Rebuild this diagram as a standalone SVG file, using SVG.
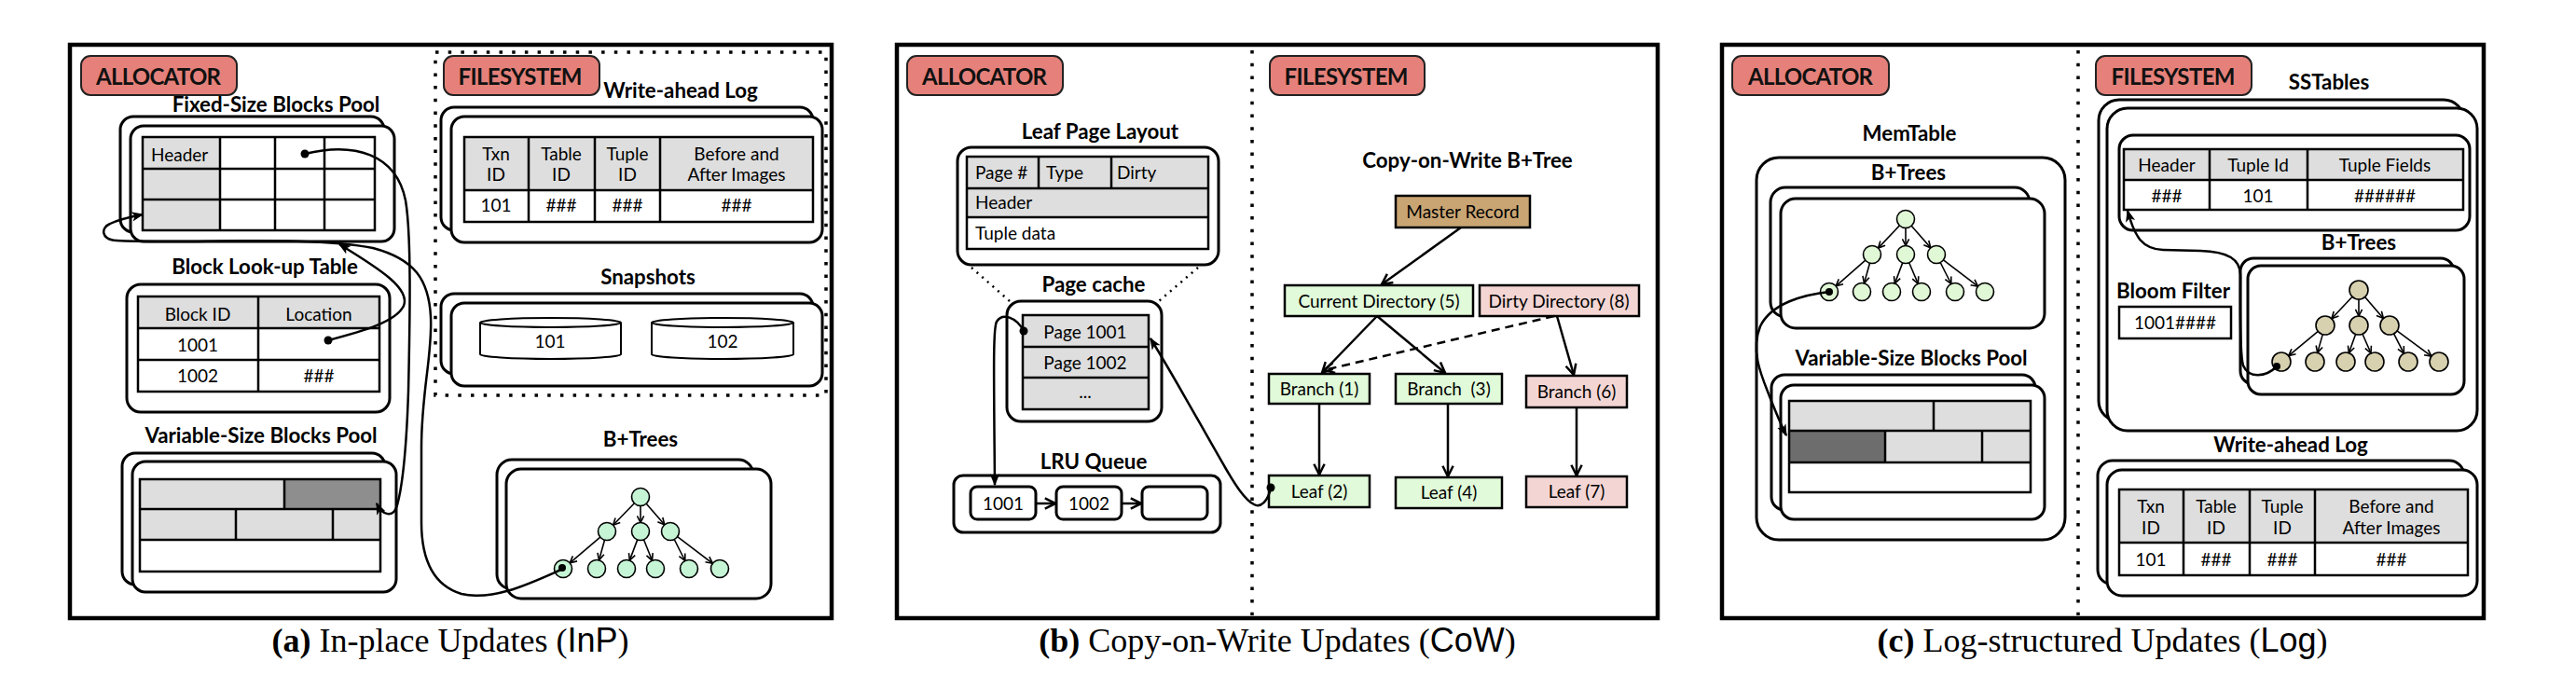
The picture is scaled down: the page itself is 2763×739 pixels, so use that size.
<svg xmlns="http://www.w3.org/2000/svg" width="2763" height="739" viewBox="0 0 2763 739">
<style>
.panel{fill:#fff;stroke:#000;stroke-width:4.5}
.tag{fill:#E5817A;stroke:#222;stroke-width:2}
.box{fill:#fff;stroke:#000;stroke-width:3}
.cell{fill:#fff;stroke:#000;stroke-width:2.5}
.g{fill:#DEDEDE}
.dots{fill:none;stroke:#000;stroke-width:3.5;stroke-dasharray:3.5 10.2}
.thin-dots{fill:none;stroke:#000;stroke-width:2.5;stroke-dasharray:2 5.5}
.t{font-family:Lato,"Liberation Sans",sans-serif;font-size:19px;fill:#000}
.tb{font-family:Lato,"Liberation Sans",sans-serif;font-weight:700;font-size:22.3px;fill:#000}
.tt{font-family:Lato,"Liberation Sans",sans-serif;font-weight:700;font-size:24px;fill:#111}
.m{text-anchor:middle}
.cap{font-family:"Liberation Serif",serif;font-size:36px;fill:#000;text-anchor:middle}
.sans{font-family:"Liberation Sans",sans-serif}
.node-a{fill:#C6F5D6;stroke:#000;stroke-width:1.6}
.node-m{fill:#E0F8D6;stroke:#000;stroke-width:1.6}
.node-f{fill:#D8D1AF;stroke:#000;stroke-width:1.6}
.gbox{fill:#E1FAD9;stroke:#000;stroke-width:2.5}
.pbox{fill:#F3D6D4;stroke:#000;stroke-width:2.5}
.conn{fill:none;stroke:#000;stroke-width:2.5}
.edge{fill:none;stroke:#000;stroke-width:1.6;marker-end:url(#tarr)}
.arrow{fill:none;stroke:#000;stroke-width:2.5;marker-end:url(#arr)}
</style>
<defs>
<marker id="arr" viewBox="0 0 10 10" refX="9" refY="5" markerWidth="14" markerHeight="14" markerUnits="userSpaceOnUse" orient="auto"><path d="M1,1 L9,5 L1,9" fill="none" stroke="#000" stroke-width="1.8"/></marker>
<marker id="tarr" viewBox="0 0 10 10" refX="9" refY="5" markerWidth="9" markerHeight="9" markerUnits="userSpaceOnUse" orient="auto"><path d="M1,1 L9,5 L1,9" fill="none" stroke="#000" stroke-width="1.8"/></marker>
<marker id="farr" viewBox="0 0 10 10" refX="9" refY="5" markerWidth="13" markerHeight="13" markerUnits="userSpaceOnUse" orient="auto"><path d="M0,1 L10,5 L0,9 L2.5,5 z" fill="#000"/></marker>
</defs>
<rect width="2763" height="739" fill="#fff"/>

<!-- ================= PANEL A ================= -->
<g id="panel-a">
<rect class="panel" x="75" y="48" width="817" height="615"/>
<text class="cap" x="483" y="699"><tspan font-weight="700">(a)</tspan> In-place Updates (<tspan class="sans">InP</tspan>)</text>
</g>
<g id="a-fs-region"><rect class="dots" x="467" y="56" width="419" height="368"/></g>
<g id="a-allocator"><rect class="tag" x="87" y="60" width="167" height="42" rx="10"/><text class="tt m" x="170" y="91" textLength="134">ALLOCATOR</text></g>
<g id="a-filesystem"><rect class="tag" x="476" y="60" width="167" height="42" rx="10"/><text class="tt m" x="558" y="91" textLength="133">FILESYSTEM</text></g>

<g id="a-fixed-pool">
<text class="tb m" x="296" y="120">Fixed-Size Blocks Pool</text>
<rect class="box" x="129" y="125" width="283" height="124" rx="14"/>
<rect class="box" x="140" y="135" width="283" height="124" rx="14"/>
<rect class="g" x="153" y="147" width="83" height="100"/>
<g class="cell" fill="none">
<rect x="153" y="147" width="249" height="100" fill="none"/>
<path d="M153,181 H402 M153,214 H402 M236,147 V247 M295,147 V247 M348,147 V247"/>
</g>
<text class="t" x="162" y="173">Header</text>
<circle cx="327" cy="165" r="4.5" fill="#000"/>
</g>

<g id="a-lookup">
<text class="tb m" x="284" y="294">Block Look-up Table</text>
<rect class="box" x="136" y="305" width="282" height="137" rx="15"/>
<rect class="g" x="148" y="318" width="259" height="34"/>
<g class="cell"><rect x="148" y="318" width="259" height="102" fill="none"/><path d="M148,352 H407 M148,386 H407 M277,318 V420"/></g>
<text class="t m" x="212" y="344">Block ID</text>
<text class="t m" x="342" y="344">Location</text>
<text class="t m" x="212" y="377">1001</text>
<text class="t m" x="212" y="410">1002</text>
<text class="t m" x="342" y="410">###</text>
<circle cx="352" cy="365" r="4.5" fill="#000"/>
</g>

<g id="a-var-pool">
<text class="tb m" x="280" y="475">Variable-Size Blocks Pool</text>
<rect class="box" x="131" y="486" width="282" height="141" rx="14"/>
<rect class="box" x="142" y="495" width="283" height="140" rx="14"/>
<rect class="g" x="150" y="514" width="258" height="65"/>
<rect x="305" y="514" width="103" height="32" fill="#8E8E8E"/>
<g class="cell"><rect x="150" y="514" width="258" height="99" fill="none"/><path d="M150,546 H408 M150,579 H408 M305,514 V546 M253,546 V579 M357,546 V579"/></g>
</g>

<g id="a-wal">
<text class="tb m" x="730" y="105">Write-ahead Log</text>
<rect class="box" x="473" y="115" width="399" height="132" rx="14"/>
<rect class="box" x="484" y="125" width="398" height="135" rx="14"/>
<rect class="g" x="498" y="147" width="374" height="57"/>
<g class="cell"><rect x="498" y="147" width="374" height="91" fill="none"/><path d="M498,204 H872 M567,147 V238 M638,147 V238 M708,147 V238"/></g>
<text class="t m" x="532" y="172">Txn</text><text class="t m" x="532" y="194">ID</text>
<text class="t m" x="602" y="172">Table</text><text class="t m" x="602" y="194">ID</text>
<text class="t m" x="673" y="172">Tuple</text><text class="t m" x="673" y="194">ID</text>
<text class="t m" x="790" y="172">Before and</text><text class="t m" x="790" y="194">After Images</text>
<text class="t m" x="532" y="227">101</text><text class="t m" x="602" y="227">###</text><text class="t m" x="673" y="227">###</text><text class="t m" x="790" y="227">###</text>
</g>

<g id="a-snapshots">
<text class="tb m" x="695" y="305">Snapshots</text>
<rect class="box" x="473" y="315" width="399" height="86" rx="14"/>
<rect class="box" x="484" y="325" width="398" height="89" rx="14"/>
<g fill="#fff" stroke="#000" stroke-width="2">
<path d="M515,346 V380 A75.5,5 0 0 0 666,380 V346"/><ellipse cx="590.5" cy="346" rx="75.5" ry="5"/>
<path d="M699,346 V380 A76,5 0 0 0 851,380 V346"/><ellipse cx="775" cy="346" rx="76" ry="5"/>
</g>
<text class="t m" x="590" y="373">101</text>
<text class="t m" x="775" y="373">102</text>
</g>

<g id="a-btrees">
<text class="tb m" x="687" y="479">B+Trees</text>
<rect class="box" x="533" y="493" width="275" height="139" rx="16"/>
<rect class="box" x="543" y="503" width="284" height="139" rx="16"/>
<g class="node-a">
<circle cx="687" cy="533" r="9.5"/>
<circle cx="651" cy="570" r="9.5"/><circle cx="687" cy="570" r="9.5"/><circle cx="719" cy="570" r="9.5"/>
<circle cx="604" cy="610" r="9.5"/><circle cx="640" cy="610" r="9.5"/><circle cx="672" cy="610" r="9.5"/><circle cx="703" cy="610" r="9.5"/><circle cx="739" cy="610" r="9.5"/><circle cx="772" cy="610" r="9.5"/>
</g>
<circle cx="603" cy="609" r="4" fill="#000"/>
</g>

<!-- ================= PANEL B ================= -->
<g id="panel-b">
<rect class="panel" x="962" y="48" width="816" height="615"/>
<text class="cap" x="1370" y="699"><tspan font-weight="700">(b)</tspan> Copy-on-Write Updates (<tspan class="sans">CoW</tspan>)</text>
<line class="dots" x1="1343" y1="54" x2="1343" y2="660"/>
</g>
<g id="b-allocator"><rect class="tag" x="973" y="60" width="167" height="42" rx="10"/><text class="tt m" x="1056" y="91" textLength="134">ALLOCATOR</text></g>
<g id="b-filesystem"><rect class="tag" x="1362" y="60" width="166" height="42" rx="10"/><text class="tt m" x="1444" y="91" textLength="133">FILESYSTEM</text></g>

<g id="b-leaf-layout">
<text class="tb m" x="1180" y="149">Leaf Page Layout</text>
<rect class="box" x="1027" y="158" width="280" height="126" rx="15"/>
<rect class="g" x="1037" y="168" width="259" height="65"/>
<g class="cell"><rect x="1037" y="168" width="259" height="99" fill="none"/><path d="M1037,202 H1296 M1037,233 H1296 M1114,168 V202 M1192,168 V202"/></g>
<text class="t" x="1046" y="192">Page #</text>
<text class="t" x="1122" y="192">Type</text>
<text class="t" x="1198" y="192">Dirty</text>
<text class="t" x="1046" y="224">Header</text>
<text class="t" x="1046" y="257">Tuple data</text>
</g>
<g id="b-zoom-lines"><path class="thin-dots" d="M1042,287 L1083,323 M1285,287 L1243,323"/></g>

<g id="b-page-cache">
<text class="tb m" x="1173" y="313">Page cache</text>
<rect class="box" x="1080" y="323" width="166" height="129" rx="15"/>
<rect class="g" x="1097" y="338" width="135" height="101"/>
<g class="cell"><rect x="1097" y="338" width="135" height="101" fill="none"/><path d="M1097,372 H1232 M1097,405 H1232"/></g>
<text class="t m" x="1164" y="363">Page 1001</text>
<text class="t m" x="1164" y="396">Page 1002</text>
<text class="t m" x="1164" y="427">...</text>
<circle cx="1098" cy="355" r="4.5" fill="#000"/>
</g>

<g id="b-lru">
<text class="tb m" x="1173" y="503">LRU Queue</text>
<rect class="box" x="1023" y="510" width="286" height="61" rx="10"/>
<rect class="box" x="1041" y="522" width="70" height="35" rx="7"/>
<rect class="box" x="1133" y="522" width="70" height="35" rx="7"/>
<rect class="box" x="1225" y="522" width="70" height="35" rx="7"/>
<text class="t m" x="1076" y="547">1001</text>
<text class="t m" x="1168" y="547">1002</text>
</g>

<g id="b-cow-title"><text class="tb m" x="1574" y="180">Copy-on-Write B+Tree</text></g>
<g id="b-master"><rect x="1497" y="210" width="144" height="34" fill="#C9A573" stroke="#000" stroke-width="2.5"/><text class="t m" x="1569" y="234">Master Record</text></g>
<g id="b-current"><rect class="gbox" x="1378" y="306" width="202" height="33"/><text class="t m" x="1479" y="330">Current Directory (5)</text></g>
<g id="b-dirty"><rect class="pbox" x="1587" y="306" width="171" height="33"/><text class="t m" x="1672" y="330">Dirty Directory (8)</text></g>
<g id="b-branch1"><rect class="gbox" x="1361" y="401" width="108" height="32"/><text class="t m" x="1415" y="424">Branch (1)</text></g>
<g id="b-branch3"><rect class="gbox" x="1497" y="401" width="114" height="32"/><text class="t m" x="1554" y="424" xml:space="preserve">Branch  (3)</text></g>
<g id="b-branch6"><rect class="pbox" x="1637" y="403" width="108" height="34"/><text class="t m" x="1691" y="427">Branch (6)</text></g>
<g id="b-leaf2"><rect class="gbox" x="1361" y="510" width="108" height="34"/><text class="t m" x="1415" y="534">Leaf (2)</text><circle cx="1363" cy="523" r="4.5" fill="#000"/></g>
<g id="b-leaf4"><rect class="gbox" x="1497" y="512" width="114" height="33"/><text class="t m" x="1554" y="535">Leaf (4)</text></g>
<g id="b-leaf7"><rect class="pbox" x="1637" y="511" width="108" height="33"/><text class="t m" x="1691" y="534">Leaf (7)</text></g>

<!-- ================= PANEL C ================= -->
<g id="panel-c">
<rect class="panel" x="1847" y="48" width="817" height="615"/>
<text class="cap" x="2255" y="699"><tspan font-weight="700">(c)</tspan> Log-structured Updates (<tspan class="sans">Log</tspan>)</text>
<line class="dots" x1="2229" y1="54" x2="2229" y2="660"/>
</g>
<g id="c-allocator"><rect class="tag" x="1858" y="60" width="168" height="42" rx="10"/><text class="tt m" x="1942" y="91" textLength="134">ALLOCATOR</text></g>
<g id="c-filesystem"><rect class="tag" x="2248" y="60" width="167" height="42" rx="10"/><text class="tt m" x="2331" y="91" textLength="133">FILESYSTEM</text></g>

<g id="c-memtable">
<text class="tb m" x="2048" y="151">MemTable</text>
<rect class="box" x="1884" y="169" width="331" height="410" rx="24"/>
<text class="tb m" x="2047" y="193">B+Trees</text>
<rect class="box" x="1899" y="201" width="278" height="139" rx="16"/>
<rect class="box" x="1910" y="213" width="283" height="139" rx="16"/>
<g class="node-m">
<circle cx="2044" cy="235" r="9.5"/>
<circle cx="2008" cy="273" r="9.5"/><circle cx="2044" cy="273" r="9.5"/><circle cx="2077" cy="273" r="9.5"/>
<circle cx="1962" cy="313" r="9.5"/><circle cx="1997" cy="313" r="9.5"/><circle cx="2029" cy="313" r="9.5"/><circle cx="2061" cy="313" r="9.5"/><circle cx="2097" cy="313" r="9.5"/><circle cx="2129" cy="313" r="9.5"/>
</g>
<circle cx="1962" cy="313" r="4" fill="#000"/>
</g>

<g id="c-var-pool">
<text class="tb m" x="2050" y="392">Variable-Size Blocks Pool</text>
<rect class="box" x="1900" y="402" width="283" height="145" rx="14"/>
<rect class="box" x="1910" y="413" width="283" height="144" rx="14"/>
<rect class="g" x="1919" y="430" width="259" height="66"/>
<rect x="1919" y="462" width="103" height="34" fill="#6D6D6D"/>
<g class="cell"><rect x="1919" y="430" width="259" height="98" fill="none"/><path d="M1919,462 H2178 M1919,496 H2178 M2074,430 V462 M2022,462 V496 M2126,462 V496"/></g>
</g>

<g id="c-sstables">
<text class="tb m" x="2498" y="96">SSTables</text>
<rect class="box" x="2251" y="107" width="392" height="345" rx="22"/>
<rect class="box" x="2260" y="116" width="397" height="346" rx="22"/>
<rect class="box" x="2273" y="145" width="376" height="102" rx="15"/>
<rect class="g" x="2278" y="160" width="364" height="33"/>
<g class="cell"><rect x="2278" y="160" width="364" height="65" fill="none"/><path d="M2278,193 H2642 M2370,160 V225 M2475,160 V225"/></g>
<text class="t m" x="2324" y="184">Header</text>
<text class="t m" x="2422" y="184">Tuple Id</text>
<text class="t m" x="2558" y="184">Tuple Fields</text>
<text class="t m" x="2324" y="217">###</text>
<text class="t m" x="2422" y="217">101</text>
<text class="t m" x="2558" y="217">######</text>
</g>

<g id="c-bloom">
<text class="tb m" x="2331" y="320">Bloom Filter</text>
<rect x="2273" y="329" width="120" height="34" fill="#fff" stroke="#000" stroke-width="2.5"/>
<text class="t m" x="2333" y="353">1001####</text>
</g>

<g id="c-fs-btrees">
<text class="tb m" x="2530" y="268">B+Trees</text>
<rect class="box" x="2403" y="277" width="229" height="135" rx="14"/>
<rect class="box" x="2411" y="285" width="232" height="138" rx="14"/>
<g class="node-f">
<circle cx="2530" cy="311" r="10"/>
<circle cx="2494" cy="349" r="10"/><circle cx="2530" cy="349" r="10"/><circle cx="2563" cy="349" r="10"/>
<circle cx="2447" cy="388" r="10"/><circle cx="2483" cy="388" r="10"/><circle cx="2516" cy="388" r="10"/><circle cx="2547" cy="388" r="10"/><circle cx="2583" cy="388" r="10"/><circle cx="2616" cy="388" r="10"/>
</g>
<circle cx="2442" cy="393" r="4" fill="#000"/>
</g>

<g id="c-wal">
<text class="tb m" x="2457" y="485">Write-ahead Log</text>
<rect class="box" x="2250" y="494" width="393" height="133" rx="16"/>
<rect class="box" x="2260" y="504" width="397" height="135" rx="16"/>
<rect class="g" x="2273" y="525" width="374" height="57"/>
<g class="cell"><rect x="2273" y="525" width="374" height="92" fill="none"/><path d="M2273,582 H2647 M2342,525 V617 M2413,525 V617 M2483,525 V617"/></g>
<text class="t m" x="2307" y="550">Txn</text><text class="t m" x="2307" y="573">ID</text>
<text class="t m" x="2377" y="550">Table</text><text class="t m" x="2377" y="573">ID</text>
<text class="t m" x="2448" y="550">Tuple</text><text class="t m" x="2448" y="573">ID</text>
<text class="t m" x="2565" y="550">Before and</text><text class="t m" x="2565" y="573">After Images</text>
<text class="t m" x="2307" y="607">101</text><text class="t m" x="2377" y="607">###</text><text class="t m" x="2448" y="607">###</text><text class="t m" x="2565" y="607">###</text>
</g>

<!-- ================= CONNECTORS ================= -->
<g id="connectors">
<!-- panel a tree edges -->
<path class="edge" d="M680.4,539.8 L657.6,563.2"/><path class="edge" d="M687,542.5 L687,560.5"/><path class="edge" d="M693.2,540.2 L712.8,562.8"/>
<path class="edge" d="M643.8,576.2 L611.2,603.8"/><path class="edge" d="M648.5,579.2 L642.5,600.8"/>
<path class="edge" d="M683.7,578.9 L675.3,601.1"/><path class="edge" d="M690.5,578.8 L699.5,601.2"/>
<path class="edge" d="M723.2,578.5 L734.8,601.5"/><path class="edge" d="M726.6,575.7 L764.4,604.3"/>
<!-- panel a pointers -->
<path class="conn" marker-end="url(#farr)" d="M327,165 C380,152 425,165 435,215 C441,250 440,330 438,420 C436,480 432,520 426,542 C422,556 410,553 404,540"/>
<path class="conn" marker-end="url(#farr)" d="M352,365 C390,355 425,345 433,328 C440,310 410,290 364,262"/>
<path class="conn" marker-end="url(#farr)" d="M604,610 C570,625 530,645 495,637 C465,628 452,600 452,560 L452,480 C452,420 464,380 462,340 C460,300 445,278 400,266 C330,252 200,262 125,258 C108,257 108,244 118,240 C126,236 138,233 153,230"/>
<!-- panel b -->
<path class="arrow" d="M1567,244 L1482,305"/>
<path class="arrow" d="M1477,339 L1418,400"/>
<path class="arrow" d="M1477,339 L1550,400"/>
<path class="arrow" d="M1667,339 L1420,397" stroke-dasharray="9 6"/>
<path class="arrow" d="M1670,339 L1688,402"/>
<path class="arrow" d="M1415,433 L1415,509"/>
<path class="arrow" d="M1553,433 L1553,511"/>
<path class="arrow" d="M1691,437 L1691,510"/>
<path class="arrow" d="M1111,540 L1132,540"/>
<path class="arrow" d="M1203,540 L1224,540"/>
<path class="conn" marker-end="url(#farr)" d="M1098,355 C1090,340 1075,335 1069,345 C1065,352 1066,400 1067,520"/>
<path class="conn" marker-end="url(#farr)" d="M1363,523 C1360,538 1352,545 1345,541 C1335,536 1325,520 1315,503 C1290,460 1260,405 1234,363"/>
<!-- panel c tree edges -->
<path class="edge" d="M2037.5,241.9 L2014.5,266.1"/><path class="edge" d="M2044,244.5 L2044,263.5"/><path class="edge" d="M2050.2,242.2 L2070.8,265.8"/>
<path class="edge" d="M2000.8,279.2 L1969.2,306.8"/><path class="edge" d="M2005.5,282.2 L1999.5,303.8"/>
<path class="edge" d="M2040.7,281.9 L2032.3,304.1"/><path class="edge" d="M2047.7,281.7 L2057.3,304.3"/>
<path class="edge" d="M2081.2,281.5 L2092.8,304.5"/><path class="edge" d="M2084.5,278.8 L2121.5,307.2"/>
<path class="edge" d="M2523.1,318.3 L2500.9,341.7"/><path class="edge" d="M2530,321 L2530,339"/><path class="edge" d="M2536.6,318.6 L2556.4,341.5"/>
<path class="edge" d="M2486.3,355.4 L2454.7,381.6"/><path class="edge" d="M2491.3,358.6 L2485.7,378.4"/>
<path class="edge" d="M2526.6,358.4 L2519.4,378.6"/><path class="edge" d="M2534,358.2 L2543,378.8"/>
<path class="edge" d="M2567.6,357.9 L2578.4,379.1"/><path class="edge" d="M2571.1,354.9 L2608,382.1"/>
<!-- panel c pointers -->
<path class="conn" marker-end="url(#farr)" d="M1962,313 C1935,316 1900,325 1888,350 C1878,375 1888,400 1896,420 C1903,438 1910,455 1916,467"/>
<path class="conn" marker-end="url(#farr)" d="M2442,393 C2430,405 2412,406 2406,392 C2402,380 2403,320 2403,295 C2403,278 2390,270 2360,269 L2320,268 C2298,267 2290,255 2282,226"/>
</g>
</svg>
